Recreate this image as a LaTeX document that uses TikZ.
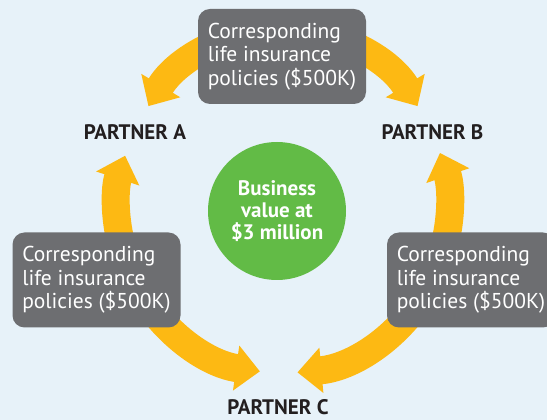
\documentclass[tikz,border=0pt]{standalone}
\usepackage{fontspec}
\setmainfont{PT Sans}
\usetikzlibrary{calc}
\usetikzlibrary{arrows.meta}
\definecolor{bgblue}{HTML}{E7F2F9}
\definecolor{boxgray}{HTML}{6D6E71}
\definecolor{valuegreen}{HTML}{62BB46}
\definecolor{flowyellow}{HTML}{FDB913}
\definecolor{labeltext}{HTML}{231F20}
\tikzset{
  policy/.style = {fill=#1, rounded corners=12pt, text=white, align=left, minimum width=168pt, minimum height=95pt, inner xsep=8pt, font=\fontsize{21.5}{23.5}\selectfont},
  hub/.style = {circle, fill=#1, text=white, align=center, minimum size=138pt, inner sep=0pt, font=\bfseries\fontsize{21}{22}\selectfont},
  partner/.style = {text=#1, anchor=base, font=\bfseries\fontsize{21}{22}\selectfont},
  flow/.style = {color=#1, line width=28pt, -{Triangle[width=44pt, length=24pt]}}
}

\begin{document}
\begin{tikzpicture}[x=1pt, y=1pt]

    \def\R{166}
    \def\Rtop{157}

    % Canvas
    \useasboundingbox (0,0) rectangle (547,420);
    \clip (0,0) rectangle (547,420);
    \fill[bgblue] (0,0) rectangle (547,420);

    % Coordinates
    \coordinate (O) at (283,213);
    \coordinate (Otop) at (283,233);
    \coordinate (T) at ($(Otop)+(90:\Rtop)$);
    \coordinate (L1) at ($(O)+(200:\R)$);
    \coordinate (L2) at ($(O)+(205:\R)$);
    \coordinate (R1) at ($(O)+(-20:\R)$);
    \coordinate (R2) at ($(O)+(-25:\R)$);

    % Flows
    \draw[flow={flowyellow}] (T) arc[start angle=90, end angle=149, radius=\Rtop];
    \draw[flow={flowyellow}] (T) arc[start angle=90, end angle=31, radius=\Rtop];
    \draw[flow={flowyellow}] (L1) arc[start angle=200, end angle=162, radius=\R];
    \draw[flow={flowyellow}] (L2) arc[start angle=205, end angle=262, radius=\R];
    \draw[flow={flowyellow}] (R1) arc[start angle=-20, end angle=19, radius=\R];
    \draw[flow={flowyellow}] (R2) arc[start angle=-25, end angle=-85, radius=\R];

    % Policies
    \node[policy={boxgray}] (polT) at (282,363.5) {Corresponding\\life insurance\\policies (\$500K)};
    \node[policy={boxgray}] (polL) at (96.5,140) {Corresponding\\life insurance\\policies (\$500K)};
    \node[policy={boxgray}] (polR) at (471,140) {Corresponding\\life insurance\\policies (\$500K)};

    % Business value
    \node[hub={valuegreen}] (value) at (277,209) {Business\\value at\\\$3 million};

    % Labels
    \node[partner={labeltext}] (partA) at (135,280) {PARTNER A};
    \node[partner={labeltext}] (partB) at (432.5,280) {PARTNER B};
    \node[partner={labeltext}] (partC) at (278,5) {PARTNER C};

\end{tikzpicture}
\end{document}
